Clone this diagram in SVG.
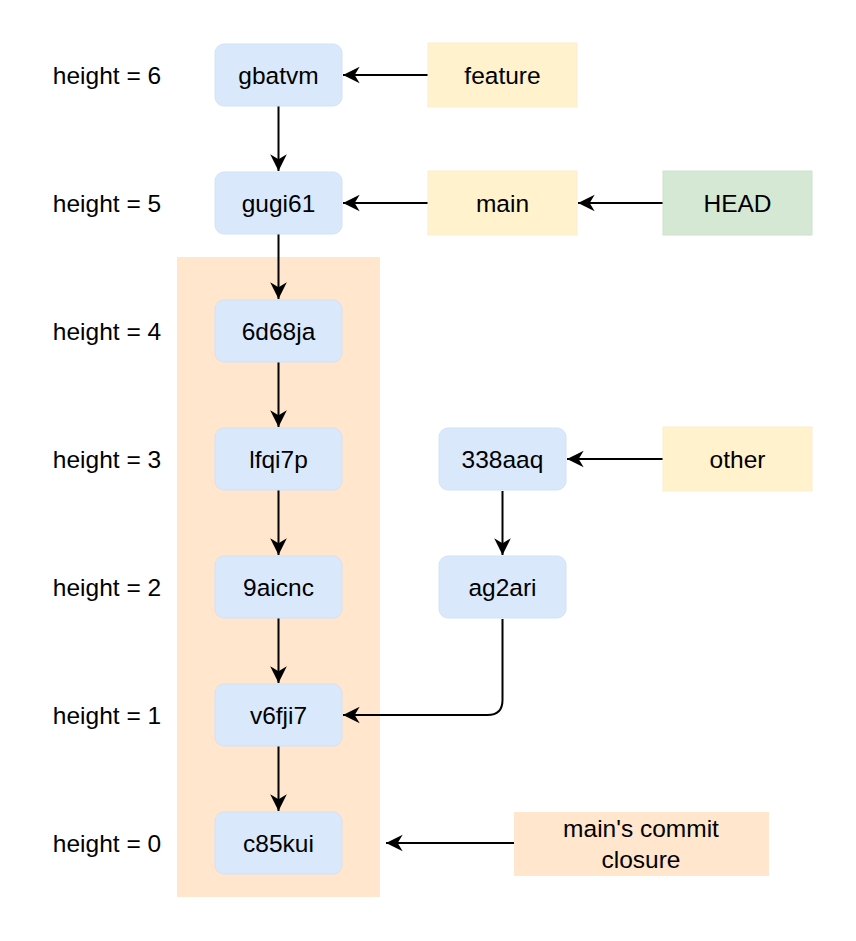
<svg xmlns="http://www.w3.org/2000/svg" width="856" height="941" viewBox="0 0 856 941">
<style>
text{font-family:"Liberation Sans",Arial,sans-serif;font-size:24.5px;fill:#000;text-anchor:middle;dominant-baseline:central}
.commit{fill:#dae8fc;stroke:#d4e1f5;stroke-width:1}
.branch{fill:#fff2cc;stroke:#fbeed0;stroke-width:1}
.head{fill:#d5e8d4;stroke:#d0e2cf;stroke-width:1}
.closure{fill:#ffe6cc;stroke:none}
.edge{fill:none;stroke:#000;stroke-width:2}
</style>
<defs>
<marker id="arr" markerUnits="userSpaceOnUse" markerWidth="20" markerHeight="20" viewBox="-16 -8 18 16" refX="0" refY="0" orient="auto">
<path d="M0,0 L-15,-7.5 L-10.5,0 L-15,7.5 Z" fill="#000"/>
</marker>
</defs>
<rect id="closure-area" class="closure" x="177" y="257" width="203" height="640"/>
<g id="labels">
<text x="107" y="75">height = 6</text>
<text x="107" y="203">height = 5</text>
<text x="107" y="331">height = 4</text>
<text x="107" y="459">height = 3</text>
<text x="107" y="587">height = 2</text>
<text x="107" y="715">height = 1</text>
<text x="107" y="843">height = 0</text>
</g>
<g id="connectors">
<path class="edge" d="M278.5,106 V171" marker-end="url(#arr)"/>
<path class="edge" d="M278.5,234 V299" marker-end="url(#arr)"/>
<path class="edge" d="M278.5,362 V427" marker-end="url(#arr)"/>
<path class="edge" d="M278.5,490 V555" marker-end="url(#arr)"/>
<path class="edge" d="M278.5,618 V683" marker-end="url(#arr)"/>
<path class="edge" d="M278.5,746 V811" marker-end="url(#arr)"/>
<path class="edge" d="M428,75 H343" marker-end="url(#arr)"/>
<path class="edge" d="M428,203 H343" marker-end="url(#arr)"/>
<path class="edge" d="M663,203 H578" marker-end="url(#arr)"/>
<path class="edge" d="M663,459 H567" marker-end="url(#arr)"/>
<path class="edge" d="M502.5,491 V555" marker-end="url(#arr)"/>
<path class="edge" d="M502.5,619 V700 Q502.5,715 487.5,715 H343" marker-end="url(#arr)"/>
<path class="edge" d="M514,843 H386" marker-end="url(#arr)"/>
</g>
<g id="gbatvm"><rect class="commit" x="215" y="44" width="127" height="62" rx="9"/><text x="278.5" y="75">gbatvm</text></g>
<g id="gugi61"><rect class="commit" x="215" y="172" width="127" height="62" rx="9"/><text x="278.5" y="203">gugi61</text></g>
<g id="n6d68ja"><rect class="commit" x="215" y="300" width="127" height="62" rx="9"/><text x="278.5" y="331">6d68ja</text></g>
<g id="lfqi7p"><rect class="commit" x="215" y="428" width="127" height="62" rx="9"/><text x="278.5" y="459">lfqi7p</text></g>
<g id="n9aicnc"><rect class="commit" x="215" y="556" width="127" height="62" rx="9"/><text x="278.5" y="587">9aicnc</text></g>
<g id="v6fji7"><rect class="commit" x="215" y="684" width="127" height="62" rx="9"/><text x="278.5" y="715">v6fji7</text></g>
<g id="c85kui"><rect class="commit" x="215" y="812" width="127" height="62" rx="9"/><text x="278.5" y="843">c85kui</text></g>
<g id="n338aaq"><rect class="commit" x="439" y="428" width="127" height="62" rx="9"/><text x="502.5" y="459">338aaq</text></g>
<g id="ag2ari"><rect class="commit" x="439" y="556" width="127" height="62" rx="9"/><text x="502.5" y="587">ag2ari</text></g>
<g id="feature"><rect class="branch" x="428" y="43" width="149" height="64"/><text x="502.5" y="75">feature</text></g>
<g id="main"><rect class="branch" x="428" y="171" width="149" height="64"/><text x="502.5" y="203">main</text></g>
<g id="other"><rect class="branch" x="663" y="427" width="149" height="64"/><text x="737.5" y="459">other</text></g>
<g id="HEAD"><rect class="head" x="663" y="171" width="149" height="64"/><text x="737.5" y="203">HEAD</text></g>
<g id="closure-label"><rect class="closure" x="514" y="812" width="255" height="64"/><text x="641" y="828">main's commit</text><text x="641" y="859">closure</text></g>
</svg>
